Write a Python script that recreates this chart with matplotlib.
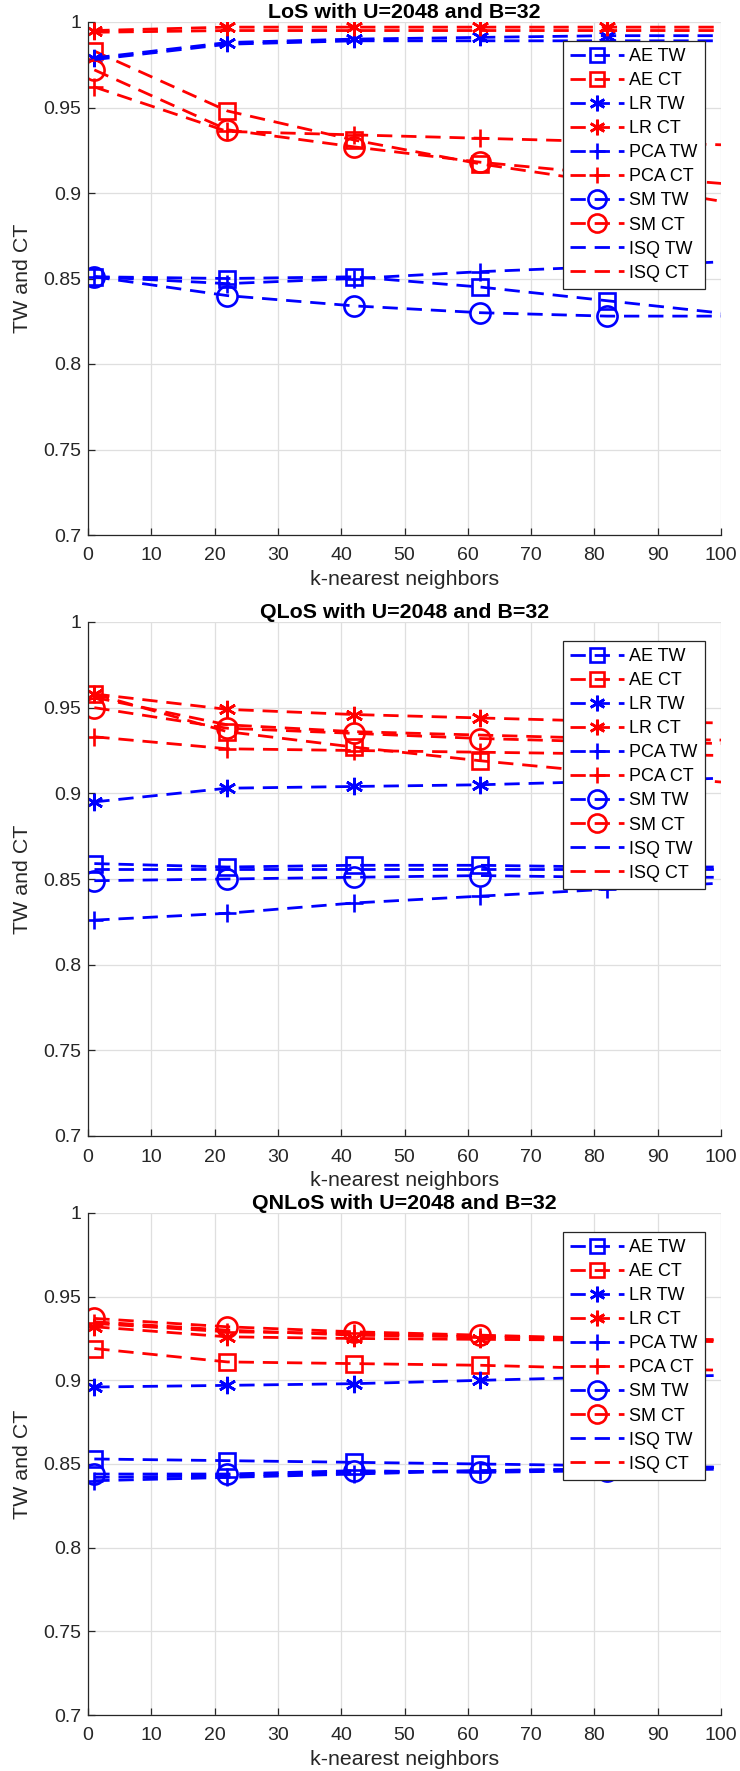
import matplotlib
matplotlib.use("Agg")
import matplotlib.pyplot as plt

plt.rcParams['font.family'] = ['Liberation Sans', 'DejaVu Sans']

# ---------------- data ----------------
k_values = [1, 22, 42, 62, 82, 102]
x_ticks = [0, 10, 20, 30, 40, 50, 60, 70, 80, 90, 100]
y_ticks = [0.7, 0.75, 0.8, 0.85, 0.9, 0.95, 1.0]
y_tick_labels = ['0.7', '0.75', '0.8', '0.85', '0.9', '0.95', '1']
titles = ['LoS with U=2048 and B=32', 'QLoS with U=2048 and B=32',
          'QNLoS with U=2048 and B=32']
series_names = ['AE TW', 'AE CT', 'LR TW', 'LR CT', 'PCA TW', 'PCA CT',
                'SM TW', 'SM CT', 'ISQ TW', 'ISQ CT']

# LoS
los_ae_tw = [0.851, 0.850, 0.851, 0.845, 0.837, 0.829]
los_ae_ct = [0.983, 0.948, 0.931, 0.917, 0.906, 0.894]
los_lr_tw = [0.979, 0.988, 0.990, 0.991, 0.992, 0.992]
los_lr_ct = [0.995, 0.997, 0.997, 0.997, 0.997, 0.997]
los_pca_tw = [0.851, 0.847, 0.850, 0.854, 0.857, 0.860]
los_pca_ct = [0.962, 0.936, 0.934, 0.932, 0.930, 0.928]
los_sm_tw = [0.851, 0.840, 0.834, 0.830, 0.828, 0.828]
los_sm_ct = [0.972, 0.937, 0.927, 0.918, 0.911, 0.905]
los_isq_tw = [0.978, 0.987, 0.989, 0.989, 0.989, 0.989]
los_isq_ct = [0.994, 0.995, 0.995, 0.995, 0.995, 0.995]

# QLoS
qlos_ae_tw = [0.859, 0.857, 0.858, 0.858, 0.857, 0.857]
qlos_ae_ct = [0.958, 0.936, 0.927, 0.919, 0.912, 0.906]
qlos_lr_tw = [0.895, 0.903, 0.904, 0.905, 0.907, 0.909]
qlos_lr_ct = [0.958, 0.949, 0.946, 0.944, 0.942, 0.941]
qlos_pca_tw = [0.826, 0.830, 0.836, 0.840, 0.844, 0.848]
qlos_pca_ct = [0.933, 0.926, 0.925, 0.924, 0.923, 0.922]
qlos_sm_tw = [0.849, 0.850, 0.851, 0.852, 0.851, 0.851]
qlos_sm_ct = [0.950, 0.938, 0.935, 0.932, 0.930, 0.929]
qlos_isq_tw = [0.856, 0.856, 0.856, 0.856, 0.856, 0.856]
qlos_isq_ct = [0.956, 0.940, 0.936, 0.934, 0.932, 0.931]

# QNLoS
qnlos_ae_tw = [0.853, 0.852, 0.851, 0.850, 0.849, 0.848]
qnlos_ae_ct = [0.919, 0.911, 0.910, 0.909, 0.907, 0.906]
qnlos_lr_tw = [0.896, 0.897, 0.898, 0.900, 0.902, 0.903]
qnlos_lr_ct = [0.932, 0.926, 0.925, 0.9245, 0.924, 0.923]
qnlos_pca_tw = [0.840, 0.842, 0.844, 0.846, 0.847, 0.848]
qnlos_pca_ct = [0.934, 0.929, 0.928, 0.926, 0.925, 0.924]
qnlos_sm_tw = [0.844, 0.844, 0.846, 0.845, 0.846, 0.847]
qnlos_sm_ct = [0.937, 0.932, 0.929, 0.927, 0.925, 0.924]
qnlos_isq_tw = [0.842, 0.843, 0.845, 0.846, 0.847, 0.848]
qnlos_isq_ct = [0.935, 0.930, 0.927, 0.926, 0.925, 0.924]

panels = [
    [los_ae_tw, los_ae_ct, los_lr_tw, los_lr_ct, los_pca_tw, los_pca_ct,
     los_sm_tw, los_sm_ct, los_isq_tw, los_isq_ct],
    [qlos_ae_tw, qlos_ae_ct, qlos_lr_tw, qlos_lr_ct, qlos_pca_tw, qlos_pca_ct,
     qlos_sm_tw, qlos_sm_ct, qlos_isq_tw, qlos_isq_ct],
    [qnlos_ae_tw, qnlos_ae_ct, qnlos_lr_tw, qnlos_lr_ct, qnlos_pca_tw, qnlos_pca_ct,
     qnlos_sm_tw, qnlos_sm_ct, qnlos_isq_tw, qnlos_isq_ct],
]

# ---------------- styles ----------------
asterisk = (6, 2, 0)
styles = [
    dict(color='#0000ff', marker='s', ms=11),
    dict(color='#ff0000', marker='s', ms=11),
    dict(color='#0000ff', marker=asterisk, ms=12.5),
    dict(color='#ff0000', marker=asterisk, ms=12.5),
    dict(color='#0000ff', marker='+', ms=13),
    dict(color='#ff0000', marker='+', ms=13),
    dict(color='#0000ff', marker='o', ms=14.5),
    dict(color='#ff0000', marker='o', ms=14.5),
    dict(color='#0000ff', marker=None, ms=0),
    dict(color='#ff0000', marker=None, ms=0),
]

W, H = 740, 1771
fig = plt.figure(figsize=(W / 100, H / 100), dpi=100)

ax_left, ax_right = 88, 721
tops = [22, 622, 1213]
heights = [513, 514, 502]
axis_gray = '#262626'
grid_gray = '#dfdfdf'

for p, (data, title) in enumerate(zip(panels, titles)):
    top = tops[p]
    ax_h = heights[p]
    rect = [ax_left / W, 1 - (top + ax_h) / H, (ax_right - ax_left) / W, ax_h / H]
    ax = fig.add_axes(rect)
    for vals, st, name in zip(data, styles, series_names):
        ax.plot(k_values, vals, color=st['color'], linestyle=(0, (5.5, 3.2)),
                linewidth=2.0, marker=st['marker'], markersize=st['ms'],
                markerfacecolor='none', markeredgecolor=st['color'],
                markeredgewidth=1.9, label=name, clip_on=True)
    ax.set_xlim(0, 100)
    ax.set_ylim(0.7, 1.0)
    ax.set_xticks(x_ticks)
    ax.set_yticks(y_ticks)
    ax.set_yticklabels(y_tick_labels)
    ax.grid(True, color=grid_gray, linewidth=0.9)
    ax.set_axisbelow(True)
    for s in ['top', 'right']:
        ax.spines[s].set_visible(False)
    for s in ['left', 'bottom']:
        ax.spines[s].set_color(axis_gray)
        ax.spines[s].set_linewidth(0.9)
    ax.tick_params(direction='in', length=5, width=0.9, color=axis_gray,
                   labelcolor=axis_gray, labelsize=14, top=False, right=False)
    ax.tick_params(axis='x', pad=9)
    ax.tick_params(axis='y', pad=5)
    ax.set_xlabel('k-nearest neighbors', fontsize=15.4, color=axis_gray, labelpad=4)
    ax.set_ylabel('TW and CT', fontsize=15.4, color=axis_gray, labelpad=8)
    ax.set_title(title, fontsize=15.4, fontweight='bold', color='black', pad=3)
    leg = ax.legend(loc='upper right',
                    bbox_to_anchor=(1 - 16 / (ax_right - ax_left), 1 - 19 / ax_h),
                    borderaxespad=0, fontsize=13, handlelength=3.0,
                    handletextpad=0.3, labelspacing=0.39, borderpad=0.4,
                    fancybox=False, framealpha=1, edgecolor=axis_gray,
                    numpoints=1, markerscale=0.9)
    leg.get_frame().set_linewidth(0.9)
    for t in leg.get_texts():
        t.set_color('black')

fig.savefig('out.png', dpi=100)
